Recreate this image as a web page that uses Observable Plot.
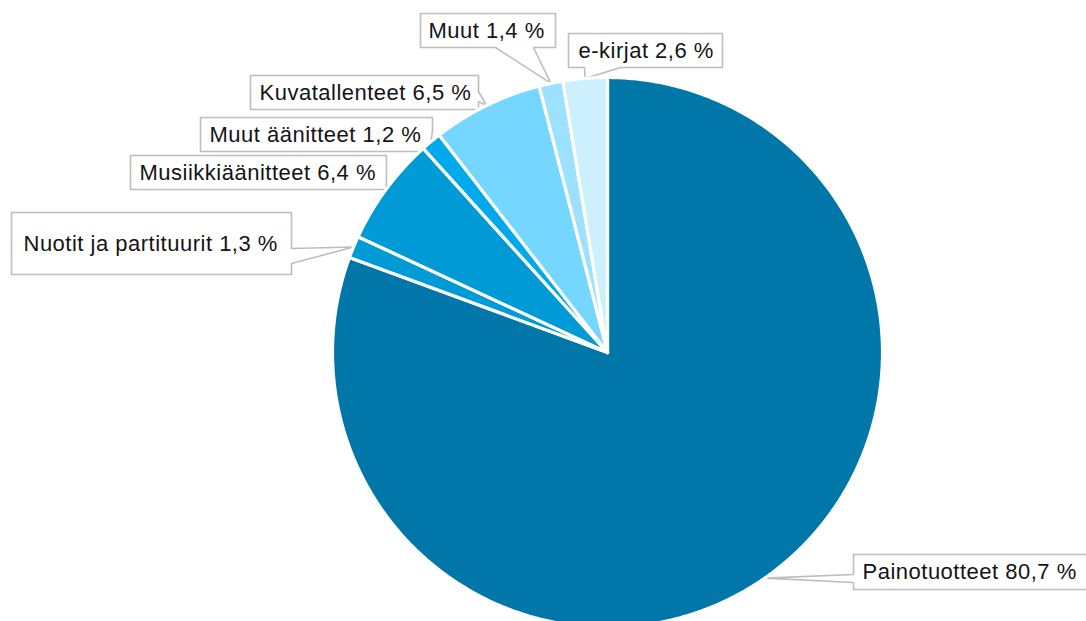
<!DOCTYPE html>
<html>
<head>
<meta charset="utf-8">
<script src="https://cdn.jsdelivr.net/npm/d3@7"></script>
<script src="https://cdn.jsdelivr.net/npm/@observablehq/plot@0.6"></script>
<style>
  html, body { margin: 0; padding: 0; background: #fff; }
  #chart svg text { letter-spacing: 0.5px; }
</style>
</head>
<body>
<div id="chart"></div>
<script>
// ---- data ----
const categories = ["Painotuotteet", "Nuotit ja partituurit", "Musiikkiäänitteet", "Muut äänitteet", "Kuvatallenteet", "Muut", "e-kirjat"];
const values = [80.7, 1.3, 6.4, 1.2, 6.5, 1.4, 2.6];
const colors = ["#0077a8", "#009bd6", "#009bd6", "#00a9ec", "#75d6ff", "#9ce1ff", "#cdf0ff"];

// ---- layout (pixels) ----
const W = 1086, H = 621;
const cx = 607, cy = 352, R = 275;
// callout boxes: [x1, y1, x2, y2], side of pointer, pointer base range
const boxes = [
  {box: [853, 554, 1092, 589], side: "left",   base: [574, 582]},
  {box: [11, 212, 291, 274],   side: "right",  base: [248, 263]},
  {box: [130, 155, 386, 189],  side: "right",  base: [176, 186]},
  {box: [200, 117, 432, 151],  side: "right",  base: [130, 140]},
  {box: [250, 75, 478, 109],   side: "right",  base: [91, 101]},
  {box: [420, 13, 555, 47],    side: "bottom", base: [495, 533]},
  {box: [568, 33, 722, 67],    side: "bottom", base: [584, 620]}
];
const textPadLeft = [9, 12, 9, 9, 9, 8, 10];

const fmt = v => v.toFixed(1).replace(".", ",") + " %";
const data = categories.map((c, i) => ({name: c, value: values[i], label: `${c} ${fmt(values[i])}`}));

const arcs = d3.pie().sort(null).value(d => d.value)(data);
const pt = (a, r) => [cx + r * Math.sin(a), cy - r * Math.cos(a)];

// slice polygons
const slicePts = [];
arcs.forEach(a => {
  const name = a.data.name;
  slicePts.push({name, x: cx, y: cy});
  const n = Math.max(2, Math.ceil((a.endAngle - a.startAngle) / (Math.PI / 360)));
  for (let k = 0; k <= n; k++) {
    const ang = a.startAngle + (a.endAngle - a.startAngle) * k / n;
    const [x, y] = pt(ang, R);
    slicePts.push({name, x, y});
  }
  slicePts.push({name, x: cx, y: cy});
});

// callout polygons
const calloutPts = [];
const textPts = [];
arcs.forEach((a, i) => {
  const name = a.data.name;
  const L = boxes[i];
  const [x1, y1, x2, y2] = L.box;
  const mid = (a.startAngle + a.endAngle) / 2;
  const [tx, ty] = pt(mid, R);
  const [b1, b2] = L.base;
  let p;
  if (L.side === "right") {
    p = [[x1, y1], [x2, y1], [x2, b1], [tx, ty], [x2, b2], [x2, y2], [x1, y2], [x1, y1]];
  } else if (L.side === "left") {
    p = [[x1, y1], [x2, y1], [x2, y2], [x1, y2], [x1, b2], [tx, ty], [x1, b1], [x1, y1]];
  } else {
    p = [[x1, y1], [x2, y1], [x2, y2], [b2, y2], [tx, ty], [b1, y2], [x1, y2], [x1, y1]];
  }
  p.forEach(([x, y]) => calloutPts.push({name, x, y}));
  textPts.push({name, label: a.data.label, x: x1 + textPadLeft[i], y: (y1 + y2) / 2});
});

const font = "'Liberation Sans', Arial, Helvetica, sans-serif";

const chart = Plot.plot({
  width: W,
  height: H,
  margin: 0,
  x: {type: "linear", domain: [0, W], range: [0, W], axis: null},
  y: {type: "linear", domain: [0, H], range: [0, H], axis: null},
  color: {type: "ordinal", domain: categories, range: colors},
  style: {background: "#fff", fontFamily: font},
  marks: [
    Plot.line(calloutPts, {x: "x", y: "y", z: "name", fill: "#fff", stroke: "#bdbdbd", strokeWidth: 1.6, strokeLinejoin: "miter", curve: "linear"}),
    Plot.line(slicePts, {x: "x", y: "y", z: "name", fill: "name", stroke: "#fff", strokeWidth: 3.2, strokeLinejoin: "round", curve: "linear"}),
    Plot.text(textPts, {x: "x", y: "y", text: "label", textAnchor: "start", fontSize: 22, fill: "#141414", fontFamily: font, lineAnchor: "middle"})
  ]
});
document.getElementById("chart").appendChild(chart);
</script>
</body>
</html>
